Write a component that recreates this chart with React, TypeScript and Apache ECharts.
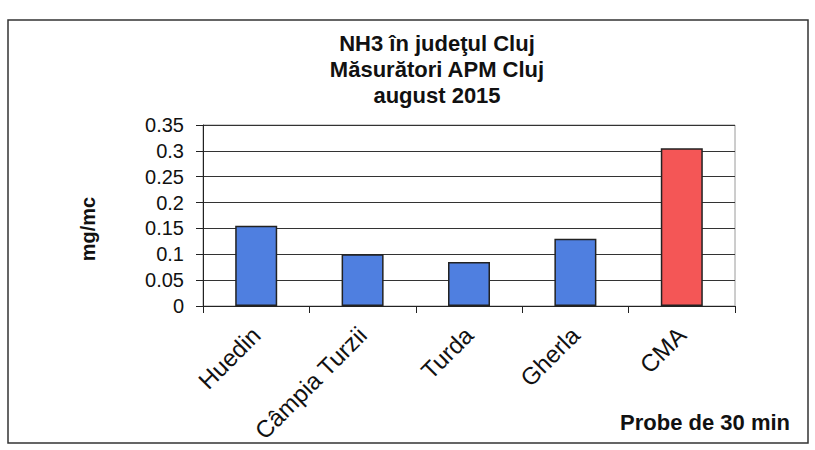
import React, { useEffect, useRef } from "react";
import * as echarts from "echarts";

const categories = ["Huedin", "Câmpia Turzii", "Turda", "Gherla", "CMA"];
const values = [0.155, 0.1, 0.085, 0.13, 0.305];
const barColors = ["#4f7fe0", "#4f7fe0", "#4f7fe0", "#4f7fe0", "#f45656"];
const titleLines = ["NH3 în judeţul Cluj", "Măsurători APM Cluj", "august 2015"];
const yName = "mg/mc";
const xNote = "Probe de 30 min";

export default function App() {
  const ref = useRef<HTMLDivElement>(null);
  useEffect(() => {
    document.body.style.margin = "0";
    const chart = echarts.init(ref.current!, null, { renderer: "svg" });
    const font = "'Liberation Sans', Arial, sans-serif";
    chart.setOption({
      animation: false,
      backgroundColor: "#ffffff",
      title: {
        text: titleLines.join("\n"),
        left: 432,
        top: 25,
        textAlign: "center",
        textStyle: {
          fontFamily: font,
          fontSize: 22,
          fontWeight: "bold",
          color: "#111",
          lineHeight: 26,
        },
      },
      grid: {
        left: 203,
        right: 80,
        top: 125,
        bottom: 144,
        show: true,
        borderColor: "#9a9a9a",
        borderWidth: 1,
      },
      xAxis: {
        type: "category",
        data: categories,
        axisLine: { show: true, lineStyle: { color: "#222", width: 1 } },
        axisTick: { show: true, length: 7, lineStyle: { color: "#222" } },
        axisLabel: {
          rotate: 45,
          fontFamily: font,
          fontSize: 24,
          color: "#111",
          margin: 25,
          interval: 0,
        },
      },
      yAxis: {
        type: "value",
        min: 0,
        max: 0.35,
        interval: 0.05,
        axisLine: { show: true, lineStyle: { color: "#222", width: 1 } },
        axisTick: { show: true, length: 7, lineStyle: { color: "#222" } },
        axisLabel: {
          fontFamily: font,
          fontSize: 20,
          color: "#111",
          margin: 19,
        },
        splitLine: { show: true, lineStyle: { color: "#333", width: 1 } },
      },
      series: [
        {
          type: "bar",
          barWidth: 42,
          data: values.map((v, i) => ({
            value: v,
            itemStyle: { color: barColors[i] },
          })),
          itemStyle: { borderColor: "#222", borderWidth: 1.5 },
        },
      ],
      graphic: [
        {
          type: "rect",
          shape: { x: 8, y: 20, width: 800, height: 423 },
          style: { fill: "none", stroke: "#333", lineWidth: 1.5 },
          silent: true,
        },
        {
          type: "text",
          x: 88,
          y: 229,
          rotation: Math.PI / 2,
          style: {
            text: yName,
            fontFamily: font,
            fontSize: 20,
            fontWeight: "bold",
            fill: "#111",
            textAlign: "center",
            textVerticalAlign: "middle",
          },
        },
        {
          type: "text",
          x: 790,
          y: 422,
          style: {
            text: xNote,
            fontFamily: font,
            fontSize: 22,
            fontWeight: "bold",
            fill: "#111",
            textAlign: "right",
            textVerticalAlign: "middle",
          },
        },
      ],
    });
    return () => chart.dispose();
  }, []);
  return (
    <div
      ref={ref}
      style={{ position: "absolute", left: 0, top: 0, width: 815, height: 450 }}
    />
  );
}
